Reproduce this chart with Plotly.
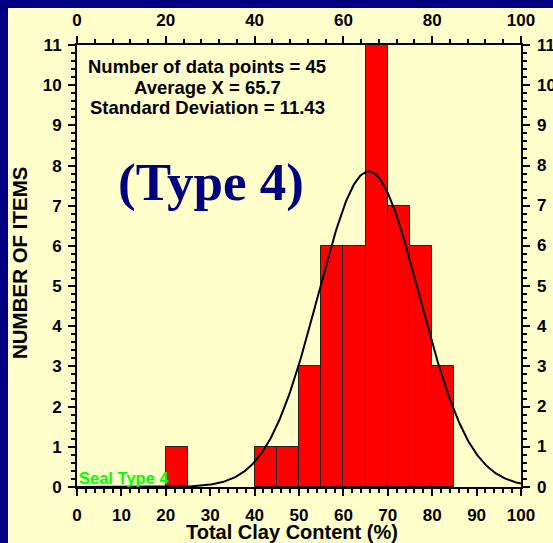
import numpy as np
import plotly.graph_objects as go

# ---- data ----
bin_starts = [20, 40, 45, 50, 55, 60, 65, 70, 75, 80]
counts = [1, 1, 1, 3, 6, 6, 11, 7, 6, 3]
bin_width = 5
n_points = 45
mean_x = 65.7
std_x = 11.43
x_ticks_bottom = [0, 10, 20, 30, 40, 50, 60, 70, 80, 90, 100]
x_ticks_top = [0, 20, 40, 60, 80, 100]
y_ticks = list(range(0, 12))
stats_lines = ["Number of data points = %d" % n_points,
               "Average X = %.1f" % mean_x,
               "Standard Deviation = %.2f" % std_x]

# page offset of the figure inside the browser window (body margin)
OFF = 8
W, H = 553 - OFF, 543 - OFF
L, R, T, B = 77 - OFF, 32, 45 - OFF, 56
pw, ph = W - L - R, H - T - B

def px(xp):  # window pixel -> paper x
    return (xp - OFF - L) / pw

def py(yp):  # window pixel -> paper y
    return 1 - (yp - OFF - T) / ph

NAVY = "#000080"
CREAM = "#ffffcc"
FONT = "Liberation Sans, Arial, sans-serif"

centers = [s + bin_width / 2 for s in bin_starts]
xc = np.linspace(0, 100, 401)
yc = n_points * bin_width / (std_x * np.sqrt(2 * np.pi)) * np.exp(-0.5 * ((xc - mean_x) / std_x) ** 2)

fig = go.Figure()
fig.add_trace(go.Bar(x=centers, y=counts, width=bin_width,
                     marker=dict(color="#ff0000", line=dict(color="#202020", width=1)),
                     showlegend=False, hoverinfo="skip"))
fig.add_trace(go.Scatter(x=xc, y=yc, mode="lines", line=dict(color="black", width=2),
                         showlegend=False, hoverinfo="skip"))
fig.add_trace(go.Scatter(x=[0], y=[0], xaxis="x2", yaxis="y2", mode="markers",
                         marker=dict(opacity=0), showlegend=False, hoverinfo="skip"))

tickfont = dict(family=FONT, size=17, color="black", weight="bold")
common_axis = dict(showgrid=False, zeroline=False, showline=True, linecolor="black",
                   linewidth=2, ticks="outside", tickcolor="black", tickwidth=2,
                   ticklen=7, tickfont=tickfont, automargin=False)
minor_common = dict(ticks="outside", ticklen=4, tickwidth=1.5, tickcolor="black")

annotations = []
for i, line in enumerate(stats_lines):
    annotations.append(dict(text=line, xref="paper", yref="paper", x=px(207), y=py(66 + 21 * i),
                            xanchor="center", yanchor="middle", showarrow=False,
                            font=dict(family=FONT, size=18.5, color="black", weight="bold")))
# right-hand tick labels (placed through the y scale)
for v in y_ticks:
    annotations.append(dict(text=str(v), xref="paper", yref="y", x=px(535), y=v,
                            xanchor="left", yanchor="middle", showarrow=False,
                            font=tickfont))
annotations += [
    dict(text="(Type 4)", xref="paper", yref="paper", x=px(210.5), y=py(182),
         xanchor="center", yanchor="middle", showarrow=False,
         font=dict(family="Liberation Serif, Times New Roman, serif", size=53, color=NAVY,
                   weight="bold")),
    dict(text="Seal Type 4", xref="paper", yref="paper", x=px(77), y=py(478),
         xanchor="left", yanchor="middle", showarrow=False,
         font=dict(family=FONT, size=16.5, color="#00ff00", weight="bold")),
    dict(text="Total Clay Content (%)", xref="paper", yref="paper", x=px(292), y=py(532),
         xanchor="center", yanchor="middle", showarrow=False,
         font=dict(family=FONT, size=20, color="black", weight="bold")),
    dict(text="NUMBER OF ITEMS", xref="paper", yref="paper", x=px(19), y=py(263),
         xanchor="center", yanchor="middle", showarrow=False, textangle=-90,
         font=dict(family=FONT, size=20.5, color="black", weight="bold")),
]

fig.update_layout(
    width=W, height=H,
    margin=dict(l=L, r=R, t=T, b=B, autoexpand=False),
    paper_bgcolor=CREAM, plot_bgcolor=CREAM,
    bargap=0,
    font=dict(family=FONT, color="black"),
    xaxis=dict(range=[0, 100], tickvals=x_ticks_bottom, minor=dict(dtick=2, **minor_common),
               ticklabelstandoff=5, **common_axis),
    xaxis2=dict(range=[0, 100], tickvals=x_ticks_top, overlaying="x", side="top", anchor="y2",
                minor=dict(dtick=4, **minor_common), ticklabelstandoff=3, **common_axis),
    yaxis=dict(range=[0, 11], tickvals=y_ticks, minor=dict(dtick=0.2, **minor_common),
               ticklabelstandoff=3, **common_axis),
    yaxis2=dict(range=[0, 11], tickvals=y_ticks, overlaying="y", side="right", anchor="x2",
                minor=dict(dtick=0.2, **minor_common), showticklabels=False, **common_axis),
    annotations=annotations,
)

fig.write_html("out.html",
               post_script="document.body.style.margin='8px 0 0 8px';"
                           "document.body.style.overflow='hidden';"
                           "document.documentElement.style.overflow='hidden';"
                           "document.body.style.background='%s';"
                           "document.documentElement.style.background='%s';" % (NAVY, NAVY))
